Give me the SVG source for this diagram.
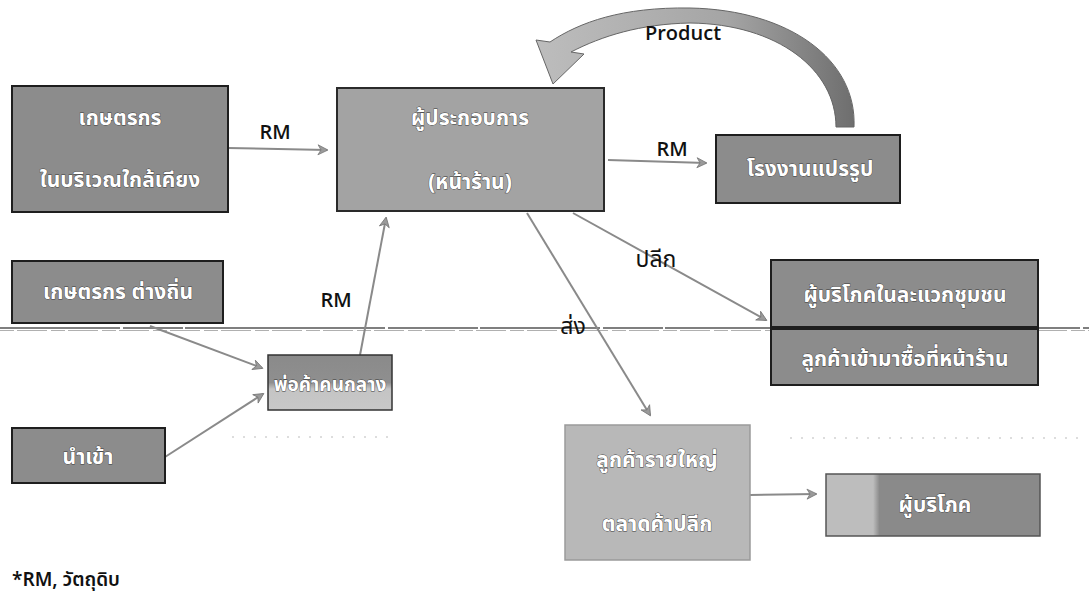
<svg xmlns="http://www.w3.org/2000/svg" width="1089" height="601" viewBox="0 0 1089 601">
<defs>
<style>
.box{fill:#8c8c8c;stroke:#1e1e1e;stroke-width:2}
.boxl{fill:#a3a3a3;stroke:#2a2a2a;stroke-width:2}
.bt{font-family:"Noto Sans Thai","Tahoma","Loma","Garuda","Noto Sans","DejaVu Sans",sans-serif;font-weight:bold;font-size:21px;fill:#fff;stroke:#3a3a3a;stroke-width:0.8;paint-order:stroke;text-anchor:middle}
.lbl{font-family:"Open Sans","Noto Sans",sans-serif;font-size:20px;font-weight:600;fill:#111;text-anchor:middle}
.th{font-family:"Noto Sans Thai","Noto Sans",sans-serif;font-size:23px;fill:#111;text-anchor:middle}
.con{fill:none;stroke:#8a8a8a;stroke-width:2;marker-end:url(#ah)}
.dot{stroke:#bbb;stroke-width:1.2;stroke-dasharray:2 9;fill:none}
</style>
<marker id="ah" viewBox="0 0 12 12" refX="10" refY="6" markerWidth="6" markerHeight="6" orient="auto" markerUnits="strokeWidth">
<path d="M1,1 L11,6 L1,11 L4,6 Z" fill="#9a9a9a" stroke="#777" stroke-width="0.8"/>
</marker>
<linearGradient id="gE" x1="0" y1="0" x2="0" y2="1">
<stop offset="0" stop-color="#8a8a8a"/><stop offset="0.5" stop-color="#8f8f8f"/><stop offset="0.62" stop-color="#c4c4c4"/><stop offset="1" stop-color="#c8c8c8"/>
</linearGradient>
<linearGradient id="gI" x1="0" y1="0" x2="1" y2="0">
<stop offset="0" stop-color="#bdbdbd"/><stop offset="0.22" stop-color="#bdbdbd"/><stop offset="0.25" stop-color="#8a8a8a"/><stop offset="1" stop-color="#8a8a8a"/>
</linearGradient>
<linearGradient id="gP" x1="0" y1="0" x2="1" y2="0">
<stop offset="0" stop-color="#bdbdbd"/><stop offset="0.6" stop-color="#a5a5a5"/><stop offset="1" stop-color="#6e6e6e"/>
</linearGradient>
</defs>

<g id="separators">
<path d="M0,328 H1089" stroke="#555" stroke-width="1.3" stroke-dasharray="120 3 60 2 200 3 90 2"/>
<path d="M0,330.5 H1089" stroke="#b0b0b0" stroke-width="1" stroke-dasharray="14 3 30 4"/>
<path class="dot" d="M232,437 H392"/>
<path class="dot" d="M790,438 H1086"/>
</g>

<g id="connectors">
<path class="con" d="M228,148 L327,150"/>
<path class="con" d="M608,160 L706,163"/>
<path class="con" d="M150,326 L262,368"/>
<path class="con" d="M165,457 L263,394"/>
<path class="con" d="M360,355 L386,218"/>
<path class="con" d="M573,213 L766,320"/>
<path class="con" d="M527,213 L650,415"/>
<path class="con" d="M750,495 L816,494"/>
<path id="product-arrow" d="M854,127 C857,60 790,10 690,8 C622,7 580,22 550,42 L536,40 L553,84 L584,54 L571,52 C602,36 640,24 690,23 C778,24 836,70 836,127 Z" fill="url(#gP)" stroke="#666" stroke-width="1"/>
<text class="lbl" x="275" y="139">RM</text>
<text class="lbl" x="672" y="156">RM</text>
<text class="lbl" x="336" y="307">RM</text>
<text class="lbl" x="683" y="40">Product</text>
<text class="th" x="656" y="267">ปลีก</text>
<text class="th" x="573" y="334">ส่ง</text>
</g>

<g id="node-farmer-near">
<rect class="box" x="12" y="86" width="216" height="126"/>
<text class="bt" x="120" y="125">เกษตรกร</text>
<text class="bt" x="120" y="187">ในบริเวณใกล้เคียง</text>
</g>
<g id="node-operator">
<rect class="boxl" x="337" y="88" width="267" height="123"/>
<text class="bt" x="470" y="125">ผู้ประกอบการ</text>
<text class="bt" x="470" y="189">(หน้าร้าน)</text>
</g>
<g id="node-factory">
<rect class="box" x="716" y="135" width="184" height="68"/>
<text class="bt" x="810" y="176">โรงงานแปรรูป</text>
</g>
<g id="node-farmer-far">
<rect class="box" x="12" y="261" width="211" height="62"/>
<text class="bt" x="118" y="299">เกษตรกร ต่างถิ่น</text>
</g>
<g id="node-middleman">
<rect x="268" y="355" width="124" height="55" fill="url(#gE)" stroke="#333" stroke-width="1.5"/>
<text class="bt" x="330" y="391" style="font-size:19px">พ่อค้าคนกลาง</text>
</g>
<g id="node-import">
<rect class="box" x="12" y="428" width="153" height="55"/>
<text class="bt" x="88" y="464">นำเข้า</text>
</g>
<g id="node-community">
<rect class="box" x="771" y="260" width="267" height="67"/>
<text class="bt" x="905" y="302">ผู้บริโภคในละแวกชุมชน</text>
</g>
<g id="node-walkin">
<rect class="box" x="771" y="329" width="267" height="56"/>
<text class="bt" x="905" y="366">ลูกค้าเข้ามาซื้อที่หน้าร้าน</text>
</g>
<g id="node-bigcustomer">
<rect x="565" y="425" width="185" height="135" fill="#b8b8b8" stroke="#9a9a9a" stroke-width="1.5"/>
<text class="bt" x="657" y="467">ลูกค้ารายใหญ่</text>
<text class="bt" x="657" y="531">ตลาดค้าปลีก</text>
</g>
<g id="node-consumer">
<rect x="826" y="474" width="214" height="62" fill="url(#gI)" stroke="#555" stroke-width="1.5"/>
<text class="bt" x="935" y="512">ผู้บริโภค</text>
</g>

<text x="12" y="586" font-family="'Noto Sans Thai','Open Sans','Noto Sans',sans-serif" font-size="19" font-weight="600" fill="#111">*RM, วัตถุดิบ</text>
</svg>
